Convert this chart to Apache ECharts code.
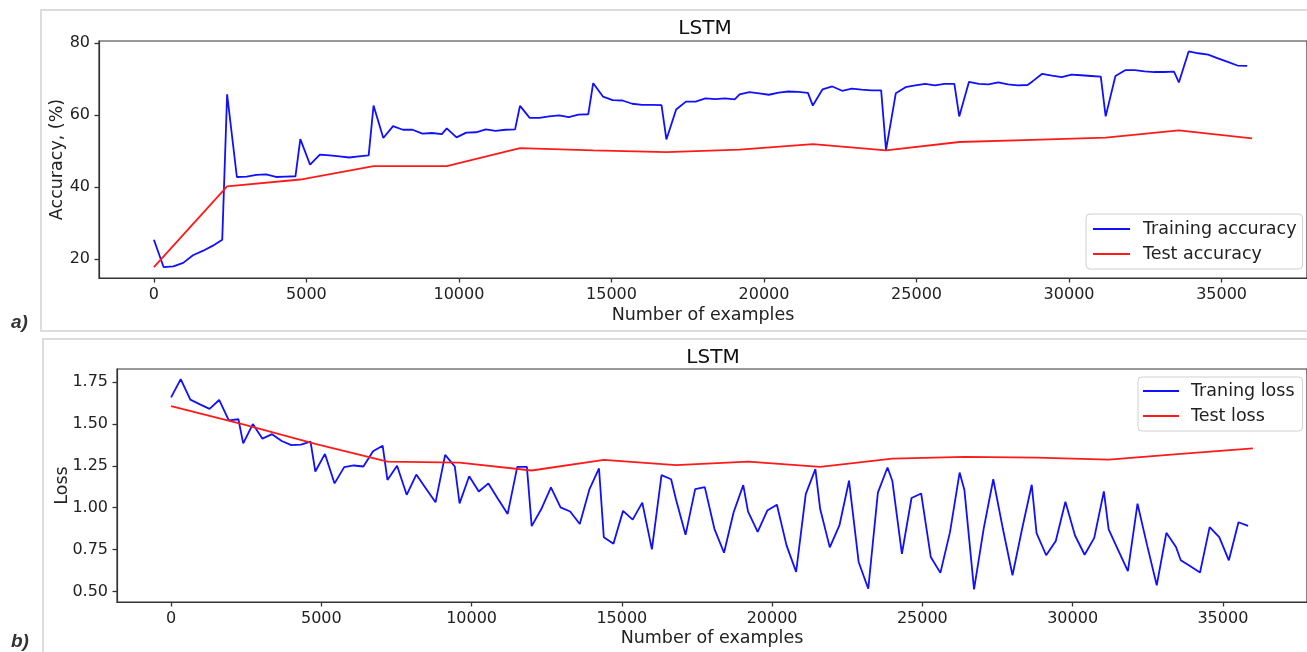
<!DOCTYPE html>
<html>
<head>
<meta charset="utf-8">
<script src="https://cdn.jsdelivr.net/npm/echarts@6/dist/echarts.min.js"></script>
<style>
html,body{margin:0;padding:0;background:#fff;}
#c{width:1307px;height:652px;}
</style>
</head>
<body>
<div id="c"></div>
<script>
const trainX = [
  0,320,640,960,1280,1600,1920,2240,
  2400,2720,3040,3360,3680,4000,4320,4640,
  4800,5120,5440,5760,6080,6400,6720,7040,
  7200,7520,7840,8160,8480,8800,9120,9440,
  9600,9920,10240,10560,10880,11200,11520,11840,
  12000,12320,12640,12960,13280,13600,13920,14240,
  14400,14720,15040,15360,15680,16000,16320,16640,
  16800,17120,17440,17760,18080,18400,18720,19040,
  19200,19520,19840,20160,20480,20800,21120,21440,
  21600,21920,22240,22560,22880,23200,23520,23840,
  24000,24320,24640,24960,25280,25600,25920,26240,
  26400,26720,27040,27360,27680,28000,28320,28640,
  28800,29120,29440,29760,30080,30400,30720,31040,
  31200,31520,31840,32160,32480,32800,33120,33440,
  33600,33920,34240,34560,34880,35200,35520,35840
];
const trainAcc = [
  25.4,17.8,18.0,19.0,21.1,22.3,23.7,25.4,
  65.7,42.8,42.9,43.4,43.5,42.8,42.9,43.0,
  53.3,46.2,49.0,48.8,48.5,48.2,48.5,48.8,
  62.6,53.6,56.9,55.9,55.9,54.8,55.0,54.7,
  56.3,53.8,55.1,55.2,56.0,55.6,55.9,56.0,
  62.5,59.2,59.2,59.6,59.9,59.4,60.1,60.2,
  68.8,65.1,64.1,64.0,63.1,62.8,62.8,62.7,
  53.2,61.5,63.7,63.7,64.6,64.4,64.6,64.3,
  65.7,66.3,66.0,65.6,66.2,66.5,66.4,66.1,
  62.6,67.1,67.9,66.7,67.3,67.0,66.8,66.8,
  50.3,66.0,67.7,68.2,68.6,68.2,68.6,68.6,
  59.6,69.2,68.6,68.5,69.0,68.5,68.2,68.3,
  69.3,71.4,70.9,70.5,71.2,71.0,70.8,70.6,
  59.6,70.8,72.4,72.4,72.1,71.9,71.9,72.0,
  69.0,77.6,77.1,76.7,75.7,74.7,73.7,73.6
];
const testX = [0,2400,4800,7200,9600,12000,14400,16800,19200,21600,24000,26400,28800,31200,33600,36000];
const testAcc = [17.8,40.2,42.1,45.8,45.8,50.8,50.2,49.7,50.4,51.9,50.2,52.5,53.1,53.7,55.7,53.5];
const trainLoss = [
  1.659,1.768,1.645,1.617,1.590,1.643,1.521,1.528,
  1.384,1.499,1.412,1.439,1.398,1.374,1.376,1.394,
  1.216,1.321,1.145,1.242,1.252,1.246,1.337,1.370,
  1.166,1.250,1.077,1.198,1.115,1.032,1.315,1.246,
  1.026,1.188,1.097,1.145,1.052,0.963,1.244,1.244,
  0.890,0.992,1.121,1.002,0.977,0.903,1.109,1.234,
  0.824,0.785,0.981,0.929,1.030,0.751,1.194,1.170,
  1.050,0.838,1.111,1.123,0.874,0.731,0.973,1.135,
  0.977,0.856,0.983,1.018,0.775,0.617,1.081,1.230,
  0.992,0.763,0.894,1.161,0.676,0.516,1.090,1.240,
  1.161,0.725,1.058,1.085,0.706,0.611,0.854,1.210,
  1.105,0.512,0.874,1.170,0.874,0.597,0.874,1.137,
  0.848,0.716,0.801,1.036,0.834,0.719,0.820,1.097,
  0.870,0.745,0.621,1.024,0.775,0.537,0.850,0.765,
  0.686,0.650,0.613,0.884,0.824,0.686,0.913,0.892
];
const testLoss = [1.606,1.497,1.381,1.275,1.269,1.222,1.285,1.254,1.275,1.244,1.293,1.303,1.299,1.287,1.321,1.354];
const xTicks = [0,5000,10000,15000,20000,25000,30000,35000];
const accTicks = [20,40,60,80];
const lossTicks = [0.5,0.75,1.0,1.25,1.5,1.75];
const legendA = ['Training accuracy','Test accuracy'];
const legendB = ['Traning loss','Test loss'];

const FONT = 'DejaVu Sans';
const zip = (xs, ys) => xs.map((x, i) => [x, ys[i]]);
const AX = '#333';
const TXT = '#222';
const LINE_ICON = 'path://M0,0h37v1.8h-37z';

function xAxisCfg(gi, gap){
  return {
    type:'value', gridIndex:gi, min:-1800, max:37800,
    name:'Number of examples', nameLocation:'middle', nameGap:gap, nameMoveOverlap:false,
    nameTextStyle:{fontFamily:FONT,fontSize:17.5,color:TXT},
    axisLine:{show:true,onZero:false,lineStyle:{color:AX,width:1.2}},
    axisTick:{show:true,inside:false,length:4.5,customValues:xTicks,lineStyle:{color:AX,width:1.3}},
    axisLabel:{customValues:xTicks,margin:9,fontFamily:FONT,fontSize:16,color:TXT,formatter:v => String(v)},
    splitLine:{show:false}
  };
}
function yAxisCfg(gi, min, max, ticks, name, gap, fmt){
  return {
    type:'value', gridIndex:gi, min:min, max:max,
    name:name, nameLocation:'middle', nameGap:gap, nameRotate:90, nameMoveOverlap:false,
    nameTextStyle:{fontFamily:FONT,fontSize:17.5,color:TXT},
    axisLine:{show:true,onZero:false,lineStyle:{color:AX,width:1.2}},
    axisTick:{show:true,inside:false,length:4.5,customValues:ticks,lineStyle:{color:AX,width:1.3}},
    axisLabel:{customValues:ticks,margin:9,fontFamily:FONT,fontSize:16,color:TXT,formatter:fmt},
    splitLine:{show:false}
  };
}
function lineSeries(name, data, color, xi){
  return {type:'line', name:name, xAxisIndex:xi, yAxisIndex:xi, data:data,
    symbol:'none', showSymbol:false, lineStyle:{color:color,width:1.8}, itemStyle:{color:color}, z:3};
}
function legendCfg(names, left, top, pad, iw, tpad){
  return {
    data:names.map(n => ({name:n, icon:LINE_ICON})), orient:'vertical', left:left, top:top, padding:pad,
    itemWidth:iw, itemHeight:14, itemGap:7, symbolKeepAspect:true,
    backgroundColor:'#fff', borderColor:'#d0d0d0', borderWidth:1, borderRadius:4,
    textStyle:{fontFamily:FONT,fontSize:17.5,color:TXT,padding:[0,0,0,tpad]}
  };
}

const chart = echarts.init(document.getElementById('c'), null, {renderer:'canvas'});
chart.setOption({
  animation:false,
  backgroundColor:'#fff',
  title:[
    {text:'LSTM', left:705, top:19, textAlign:'center', padding:0,
     textStyle:{fontFamily:FONT,fontSize:20,fontWeight:'normal',color:'#111'}},
    {text:'LSTM', left:713, top:348, textAlign:'center', padding:0,
     textStyle:{fontFamily:FONT,fontSize:20,fontWeight:'normal',color:'#111'}}
  ],
  legend:[
    legendCfg(legendA, 1086, 214, [6,6,6,7], 37, 8),
    legendCfg(legendB, 1138, 377, [5,8,6,5], 36, 7)
  ],
  grid:[
    {left:99, top:41, width:1212, height:237, show:true, borderColor:AX, borderWidth:1.2, backgroundColor:'transparent'},
    {left:117, top:369, width:1193, height:233, show:true, borderColor:AX, borderWidth:1.2, backgroundColor:'transparent'}
  ],
  xAxis:[xAxisCfg(0, 28), xAxisCfg(1, 27)],
  yAxis:[
    yAxisCfg(0, 14.8, 80.5, accTicks, 'Accuracy, (%)', 33, v => String(v)),
    yAxisCfg(1, 0.437, 1.828, lossTicks, 'Loss', 46, v => v.toFixed(2))
  ],
  series:[
    lineSeries(legendA[0], zip(trainX, trainAcc), '#1010ff', 0),
    lineSeries(legendA[1], zip(testX, testAcc), '#ff1a1a', 0),
    lineSeries(legendB[0], zip(trainX, trainLoss), '#1010ff', 1),
    lineSeries(legendB[1], zip(testX, testLoss), '#ff1a1a', 1)
  ],
  graphic:[
    {type:'rect', z:-10, shape:{x:41,y:10,width:1300,height:321}, style:{fill:'none',stroke:'#dcdcdc',lineWidth:2}},
    {type:'rect', z:-10, shape:{x:43,y:339,width:1300,height:340}, style:{fill:'none',stroke:'#dcdcdc',lineWidth:2}},
    {type:'text', style:{text:'a)', x:11, y:323, verticalAlign:'middle', font:'italic bold 19px "Liberation Sans"', fill:'#333'}},
    {type:'text', style:{text:'b)', x:11, y:642, verticalAlign:'middle', font:'italic bold 19px "Liberation Sans"', fill:'#333'}}
  ]
});
</script>
</body>
</html>
